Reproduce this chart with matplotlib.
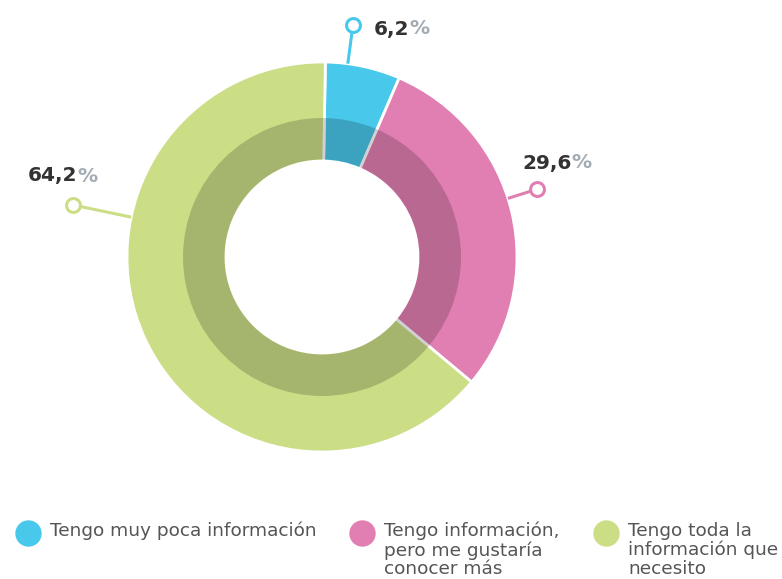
import numpy as np
import matplotlib
matplotlib.use("Agg")
import matplotlib.pyplot as plt
from matplotlib.patches import Wedge

categories = ["Tengo muy poca información",
              "Tengo información,\npero me gustaría\nconocer más",
              "Tengo toda la\ninformación que\nnecesito"]
values = [6.2, 29.6, 64.2]
value_labels = ["6,2", "29,6", "64,2"]
colors = ["#48C8EA", "#E27FB2", "#CBDE86"]

W, H = 782, 579
fig = plt.figure(figsize=(W / 100, H / 100), dpi=100)
ax = fig.add_axes([0, 0, 1, 1])

def Y(py):
    return H - py

cx, cy = 322, Y(257)
R_out, R_hole, R_dark = 195, 96, 139

ax.pie(values, colors=colors, radius=R_out, center=(cx, cy), startangle=89,
       counterclock=False,
       wedgeprops=dict(width=R_out - R_hole, edgecolor="white", linewidth=2))
ax.add_patch(Wedge((cx, cy), R_dark, 0, 360, width=R_dark - R_hole - 1.5,
                   facecolor="black", alpha=0.18, linewidth=0))

# leader lines (angle clockwise from top, end radius) and label offsets
lead_angles = [7.6, 72.5, 281.8]
lead_len = [234, 225, 254]
text_pos = [(374, 29), (522, 163), (28, 176)]

for i in range(len(values)):
    a = np.deg2rad(lead_angles[i])
    x0, y0 = cx + R_out * np.sin(a), cy + R_out * np.cos(a)
    x1, y1 = cx + lead_len[i] * np.sin(a), cy + lead_len[i] * np.cos(a)
    ax.plot([x0, x1], [y0, y1], color=colors[i], lw=2.2, solid_capstyle="butt", zorder=3)
    ax.plot([x1], [y1], marker="o", ms=10, mfc="white", mec=colors[i], mew=2.2, zorder=4)
    tx, ty = text_pos[i]
    t = ax.text(tx, Y(ty), value_labels[i], fontsize=14.5, fontweight="bold",
                color="#333333", ha="left", va="center", family="DejaVu Sans")
    ax.annotate("%", xy=(1, 0), xycoords=t, xytext=(0, 0), textcoords="offset points",
                fontsize=14.5, fontweight="bold", color="#A3ACB4", ha="left", va="bottom",
                family="DejaVu Sans")

# legend
leg_x = [28, 362, 606]
for i, cat in enumerate(categories):
    ax.plot([leg_x[i]], [Y(533)], marker="o", ms=19, mfc=colors[i], mec="none")
    ax.text(leg_x[i] + 22, Y(522), cat, fontsize=13.3, color="#555558",
            ha="left", va="top", linespacing=1.04, family="DejaVu Sans")

ax.set_xlim(0, W)
ax.set_ylim(0, H)
ax.set_aspect("auto")
ax.axis("off")
fig.savefig("out.png", dpi=100)
